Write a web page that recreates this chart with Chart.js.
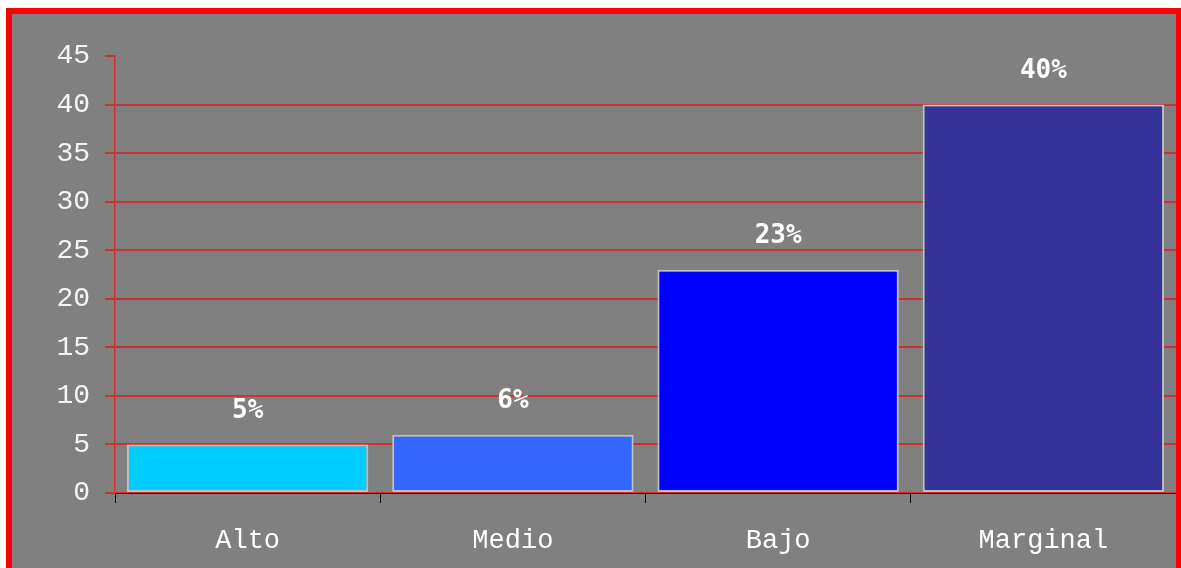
<!DOCTYPE html>
<html>
<head>
<meta charset="utf-8">
<script src="https://cdn.jsdelivr.net/npm/chart.js@4/dist/chart.umd.min.js"></script>
<style>
  html, body { margin: 0; padding: 0; background: #fff; overflow: hidden; }
  #frame {
    position: absolute;
    left: 6px;
    top: 8px;
    width: 1164px;
    height: 560px;
    border: 6px solid #ff0000;
    background: #808080;
  }
  #chart { display: block; }
</style>
</head>
<body>
<div id="frame">
  <canvas id="chart" width="1164" height="554"></canvas>
</div>
<script>
// Share of each level (%)
const categories = ["Alto", "Medio", "Bajo", "Marginal"];
const shares = [5, 6, 23, 40];
const yMax = 45;
const yStep = 5;

const barColors = ["#00ccff", "#3366ff", "#0000ff", "#333399"];

// Percent labels above each bar
const valueLabels = {
  id: "valueLabels",
  afterDatasetsDraw(chart) {
    const ctx = chart.ctx;
    const meta = chart.getDatasetMeta(0);
    ctx.save();
    ctx.font = "bold 26px 'DejaVu Sans Mono'";
    ctx.fillStyle = "#ffffff";
    ctx.textAlign = "center";
    ctx.textBaseline = "middle";
    meta.data.forEach((bar, i) => {
      ctx.fillText(shares[i] + "%", bar.x, bar.y - 33);
    });
    ctx.restore();
  }
};

const ctx = document.getElementById("chart").getContext("2d");

new Chart(ctx, {
  type: "bar",
  data: {
    labels: categories,
    datasets: [{
      data: shares,
      backgroundColor: barColors,
      borderColor: "#c0c0c0",
      borderWidth: 2,
      borderSkipped: false,
      barPercentage: 0.91,
      categoryPercentage: 1
    }]
  },
  options: {
    responsive: false,
    animation: false,
    layout: { padding: { top: 42, right: 0, left: 0, bottom: 0 } },
    plugins: {
      legend: { display: false },
      tooltip: { enabled: false }
    },
    scales: {
      x: {
        afterFit: (scale) => { scale.height = 75; },
        border: { color: "#000000", width: 1 },
        grid: {
          offset: true,
          drawOnChartArea: false,
          drawTicks: true,
          tickLength: 10,
          tickColor: "#000000"
        },
        ticks: {
          color: "#ffffff",
          padding: 22,
          font: { family: "'Liberation Mono'", size: 27 }
        }
      },
      y: {
        min: 0,
        max: yMax,
        afterFit: (scale) => { scale.width = 103; },
        border: { color: "#d83030", width: 1.5 },
        grid: {
          color: (c) => (c.tick && c.tick.value === yMax ? "rgba(0,0,0,0)" : "#d03030"),
          tickColor: "#d03030",
          tickLength: 10,
          lineWidth: 2
        },
        ticks: {
          stepSize: yStep,
          color: "#f4f4f4",
          padding: 15,
          font: { family: "'Liberation Mono'", size: 28 }
        }
      }
    }
  },
  plugins: [valueLabels]
});
</script>
</body>
</html>
